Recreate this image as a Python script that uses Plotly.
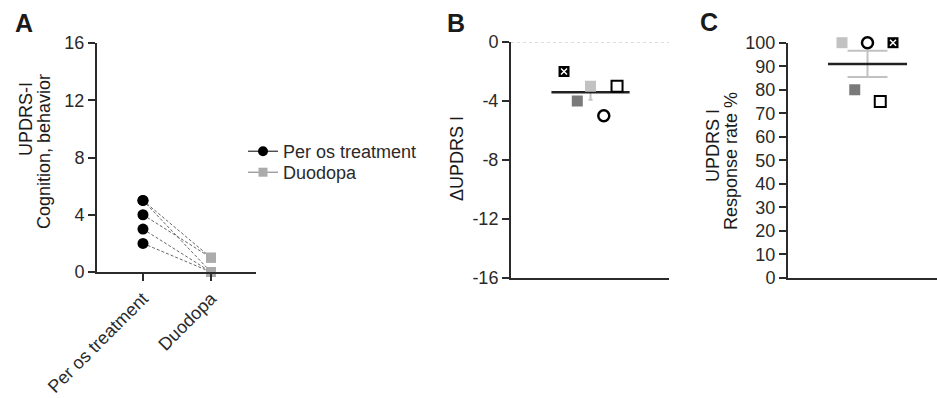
import numpy as np
import plotly.graph_objects as go

W, H = 937, 398

# ---------------- data ----------------
conditions = ["Per os treatment", "Duodopa"]
# patients: open circle, dark grey square, open square, light grey square, crossed square
per_os_scores = [5, 5, 4, 3, 2]
duodopa_scores = [0, 1, 1, 0, 0]
delta_updrs = [-5, -4, -3, -3, -2]
response_rate = [100, 80, 75, 100, 100]
a_ticks = [0, 4, 8, 12, 16]
b_ticks = [0, -4, -8, -12, -16]
c_ticks = [0, 10, 20, 30, 40, 50, 60, 70, 80, 90, 100]

# ---------------- styling ----------------
FONT = "Liberation Sans, Arial, sans-serif"
AX = "#2b2b2b"
TXT = "#2a2a2a"
LIGHT = "#c2c2c2"
DARK = "#7a7a7a"
DUO = "#ababab"
FS = 18

styles = [
    dict(symbol="circle-open", color="black", size=11, line=dict(color="black", width=2.5)),
    dict(symbol="square", color=DARK, size=11, line=dict(width=0)),
    dict(symbol="square-open", color="black", size=11, line=dict(color="black", width=2)),
    dict(symbol="square", color=LIGHT, size=11, line=dict(width=0)),
    dict(symbol="square", color="black", size=11, line=dict(width=0)),
]
crossed_idx = 4
slot_b = [3, 1, 4, 2, 0]
slot_c = [2, 1, 3, 0, 4]


def px_x(p):
    return p / W


def px_y(p):
    return (H - p) / H


fig = go.Figure()

# ---------------- Panel A ----------------
for i in range(len(per_os_scores)):
    fig.add_trace(go.Scatter(
        x=[0, 1], y=[per_os_scores[i], duodopa_scores[i]], mode="lines",
        line=dict(color="#666666", width=1, dash="3px,2px"), showlegend=False,
        xaxis="x", yaxis="y", cliponaxis=False, hoverinfo="skip"))
fig.add_trace(go.Scatter(
    x=[0] * len(per_os_scores), y=per_os_scores, mode="markers",
    marker=dict(symbol="circle", color="black", size=11), showlegend=False,
    xaxis="x", yaxis="y", cliponaxis=False))
fig.add_trace(go.Scatter(
    x=[1] * len(duodopa_scores), y=duodopa_scores, mode="markers",
    marker=dict(symbol="square", color=DUO, size=10), showlegend=False,
    xaxis="x", yaxis="y", cliponaxis=False))
# legend entries (one legend box per row for exact spacing)
fig.add_trace(go.Scatter(
    x=[None], y=[None], mode="lines+markers", name=conditions[0], legend="legend",
    marker=dict(symbol="circle", color="black", size=10),
    line=dict(color="black", width=1), xaxis="x", yaxis="y"))
fig.add_trace(go.Scatter(
    x=[None], y=[None], mode="lines+markers", name=conditions[1], legend="legend2",
    marker=dict(symbol="square", color=DUO, size=9),
    line=dict(color="#777777", width=1), xaxis="x", yaxis="y"))


def add_group(values, slots, xa, ya, halfw, capw):
    vals = np.array(values, dtype=float)
    mean = vals.mean()
    sem = vals.std(ddof=1) / np.sqrt(len(vals))
    center = (min(slots) + max(slots)) / 2
    # SEM error bar
    fig.add_trace(go.Scatter(
        x=[center], y=[mean], mode="markers", marker=dict(size=0.1, color=LIGHT),
        error_y=dict(type="constant", value=sem, color=LIGHT, thickness=2, width=capw),
        showlegend=False, xaxis=xa, yaxis=ya, cliponaxis=False, hoverinfo="skip"))
    # mean line
    fig.add_trace(go.Scatter(
        x=[center - halfw, center + halfw], y=[mean, mean], mode="lines",
        line=dict(color="#222222", width=2.5), showlegend=False,
        xaxis=xa, yaxis=ya, cliponaxis=False, hoverinfo="skip"))
    for i, v in enumerate(values):
        st = styles[i]
        fig.add_trace(go.Scatter(
            x=[slots[i]], y=[v], mode="markers",
            marker=dict(symbol=st["symbol"], color=st["color"], size=st["size"], line=st["line"]),
            showlegend=False, xaxis=xa, yaxis=ya, cliponaxis=False))
        if i == crossed_idx:
            fig.add_trace(go.Scatter(
                x=[slots[i]], y=[v], mode="markers",
                marker=dict(symbol="x-thin-open", size=6, color="white",
                            line=dict(color="white", width=1.5)),
                showlegend=False, xaxis=xa, yaxis=ya, cliponaxis=False, hoverinfo="skip"))


add_group(delta_updrs, slot_b, "x2", "y2", 2.95, 2)
add_group(response_rate, slot_c, "x3", "y3", 3.1, 20)

tickfont = dict(family=FONT, size=FS, color=TXT)
common_y = dict(showline=True, linewidth=2, linecolor=AX, ticks="outside", ticklen=7,
                tickwidth=2, tickcolor=AX, showgrid=False, zeroline=False,
                tickfont=tickfont, automargin=False)
common_x = dict(showline=True, linewidth=2, linecolor=AX, showgrid=False, zeroline=False,
                automargin=False)
legend_common = dict(xanchor="left", yanchor="top", bgcolor="rgba(0,0,0,0)",
                     font=dict(family=FONT, size=FS, color=TXT), itemwidth=30,
                     tracegroupgap=0)

fig.update_layout(
    width=W, height=H, margin=dict(l=0, r=0, t=0, b=0, autoexpand=False),
    plot_bgcolor="white", paper_bgcolor="white",
    font=dict(family=FONT, size=FS, color=TXT),
    xaxis=dict(domain=[px_x(97), px_x(256)], range=[-0.676, 1.662], anchor="y",
               tickvals=[0, 1], ticktext=conditions, tickangle=-45,
               ticks="outside", ticklen=7, tickwidth=2, tickcolor=AX,
               tickfont=tickfont, **common_x),
    yaxis=dict(domain=[px_y(272), px_y(43)], range=[0, 16], anchor="x",
               tickvals=a_ticks, **common_y),
    xaxis2=dict(domain=[px_x(511), px_x(669)], range=[-4.0, 7.92], anchor="y2",
                showticklabels=False, ticks="", **common_x),
    yaxis2=dict(domain=[px_y(278), px_y(42)], range=[-16, 0], anchor="x2",
                tickvals=b_ticks, ticktext=[str(t) for t in b_ticks], **common_y),
    xaxis3=dict(domain=[px_x(788), 1.0], range=[-4.235, 7.45], anchor="y3",
                showticklabels=False, ticks="", **common_x),
    yaxis3=dict(domain=[px_y(278), px_y(42.7)], range=[0, 100], anchor="x3",
                tickvals=c_ticks, **common_y),
    showlegend=True,
    legend=dict(x=px_x(243), y=px_y(133), **legend_common),
    legend2=dict(x=px_x(243), y=px_y(154), **legend_common),
)

# zero reference line in panel B
fig.add_shape(type="line", xref="x2 domain", yref="y2", x0=0, x1=1, y0=0, y1=0,
              line=dict(color="#bbbbbb", width=1, dash="dot"))

ann = []
def label(text, x, y, angle=0, size=FS, bold=False):
    t = f"<b>{text}</b>" if bold else text
    ann.append(dict(text=t, x=px_x(x), y=px_y(y), xref="paper", yref="paper",
                    showarrow=False, textangle=angle, xanchor="center", yanchor="middle",
                    font=dict(family=FONT, size=size, color="#1a1a1a")))

label("A", 24, 23, size=25, bold=True)
label("B", 456, 23, size=25, bold=True)
label("C", 709, 22, size=25, bold=True)
label("UPDRS-I", 26, 119, angle=-90)
label("Cognition, behavior", 44, 152, angle=-90)
label("ΔUPDRS I", 457, 159, angle=-90)
label("UPDRS I", 713, 146, angle=-90)
label("Response rate %", 731, 161, angle=-90)
fig.update_layout(annotations=ann)

fig.write_html("out.html", config={"displayModeBar": False},
               post_script="document.body.style.margin='0';document.body.style.padding='0';")
